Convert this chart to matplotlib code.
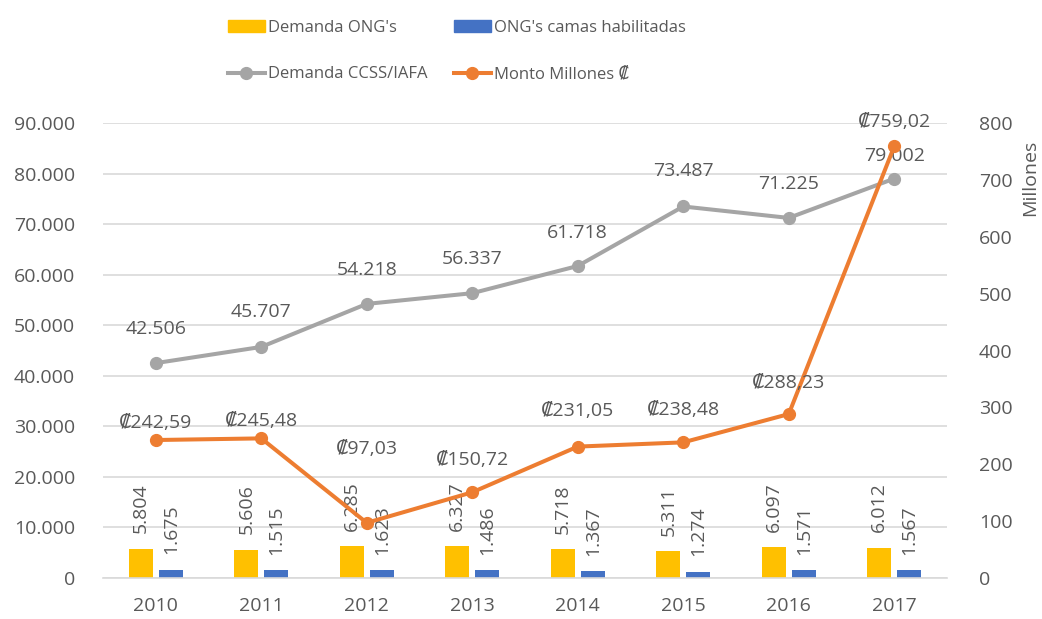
import matplotlib
matplotlib.use("Agg")
import matplotlib.pyplot as plt
from matplotlib.lines import Line2D
from matplotlib.patches import Patch
import numpy as np

years = ["2010", "2011", "2012", "2013", "2014", "2015", "2016", "2017"]
demanda_ong = [5804, 5606, 6285, 6327, 5718, 5311, 6097, 6012]
camas_ong = [1675, 1515, 1623, 1486, 1367, 1274, 1571, 1567]
demanda_ccss = [42506, 45707, 54218, 56337, 61718, 73487, 71225, 79002]
monto = [242.59, 245.48, 97.03, 150.72, 231.05, 238.48, 288.23, 759.02]

left_ticks = [0, 10000, 20000, 30000, 40000, 50000, 60000, 70000, 80000, 90000]
right_ticks = [0, 100, 200, 300, 400, 500, 600, 700, 800]

# label offsets (pixels above point), layout only
gray_off = [34, 35, 34, 34, 33, 35, 34, 23]
orange_off = [17, 17, 74, 32, 36, 32, 31, 24]

YEL = "#FFC000"
BLU = "#4472C4"
GRY = "#A5A5A5"
ORG = "#ED7D31"
TXT = "#595959"
GRID = "#D9D9D9"

plt.rcParams["font.family"] = ["Open Sans", "DejaVu Sans"]
FS = 14
LFS = 12

def fmt_thousands(v):
    return f"{v:,.0f}".replace(",", ".")

def fmt_colon(v):
    return "\u20a1" + f"{v:.2f}".replace(".", ",")

W, H = 1042, 619
fig = plt.figure(figsize=(W / 100, H / 100), dpi=100)
ax = fig.add_axes([103 / W, (H - 578) / H, (947 - 103) / W, (578 - 123) / H])
ax2 = ax.twinx()

x = np.arange(len(years))
bw = 0.227
off = 0.142
ax.bar(x - off, demanda_ong, width=bw, color=YEL, zorder=2)
ax.bar(x + off, camas_ong, width=bw, color=BLU, zorder=2)

for xi, v in zip(x, demanda_ong):
    ax.annotate(fmt_thousands(v), (xi - off, v), xytext=(0, 11), textcoords="offset points",
                rotation=90, ha="center", va="bottom", fontsize=FS, color=TXT)
for xi, v in zip(x, camas_ong):
    ax.annotate(fmt_thousands(v), (xi + off, v), xytext=(0, 11), textcoords="offset points",
                rotation=90, ha="center", va="bottom", fontsize=FS, color=TXT)

ax.plot(x, demanda_ccss, color=GRY, lw=2.9, marker="o", ms=8.5, zorder=3)
for xi, v, o in zip(x, demanda_ccss, gray_off):
    ax.annotate(fmt_thousands(v), (xi, v), xytext=(0, o * 0.72), textcoords="offset points",
                ha="center", va="center", fontsize=FS, color=TXT, zorder=5)

ax2.plot(x, monto, color=ORG, lw=2.9, marker="o", ms=8.5, zorder=3)
for xi, v, o in zip(x, monto, orange_off):
    ax2.annotate(fmt_colon(v), (xi, v), xytext=(0, o * 0.72), textcoords="offset points",
                 ha="center", va="center", fontsize=FS, color=TXT, zorder=5)

ax.set_xlim(-0.5, len(years) - 0.5)
ax.set_ylim(0, 90000)
ax2.set_ylim(0, 800)
ax.set_yticks(left_ticks)
ax.set_yticklabels([fmt_thousands(t) for t in left_ticks])
ax2.set_yticks(right_ticks)
ax2.set_yticklabels([str(t) for t in right_ticks])
ax.set_xticks(x)
ax.set_xticklabels(years)

ax.yaxis.grid(True, color=GRID, lw=1.2, zorder=0)
ax.set_axisbelow(True)
for a in (ax, ax2):
    for s in a.spines.values():
        s.set_visible(False)
ax.spines["bottom"].set_visible(True)
ax.spines["bottom"].set_color(GRID)
ax.spines["bottom"].set_linewidth(1.2)

ax.tick_params(axis="both", length=0, labelsize=FS, labelcolor=TXT)
ax.tick_params(axis="y", pad=20)
ax.tick_params(axis="x", pad=14)
ax2.tick_params(axis="y", length=0, labelsize=FS, labelcolor=TXT, pad=23)

fig.text(1030 / W, 1 - 178 / H, "Millones", rotation=90, ha="center", va="center",
         fontsize=FS, color=TXT)

handles = [
    Patch(color=YEL),
    Line2D([], [], color=GRY, lw=2.9, marker="o", ms=8.5),
    Patch(color=BLU),
    Line2D([], [], color=ORG, lw=2.9, marker="o", ms=8.5),
]
labels = ["Demanda ONG's", "Demanda CCSS/IAFA", "ONG's camas habilitadas", "Monto Millones \u20a1"]
leg = fig.legend(handles, labels, ncol=2, loc="center", bbox_to_anchor=(457 / W, 1 - 51 / H),
                 frameon=False, fontsize=LFS, handlelength=2.2, handleheight=0.72,
                 handletextpad=0.2, columnspacing=1.6, labelspacing=1.85,
                 borderpad=0, borderaxespad=0)
for t in leg.get_texts():
    t.set_color(TXT)

fig.savefig("out.png", dpi=100)
